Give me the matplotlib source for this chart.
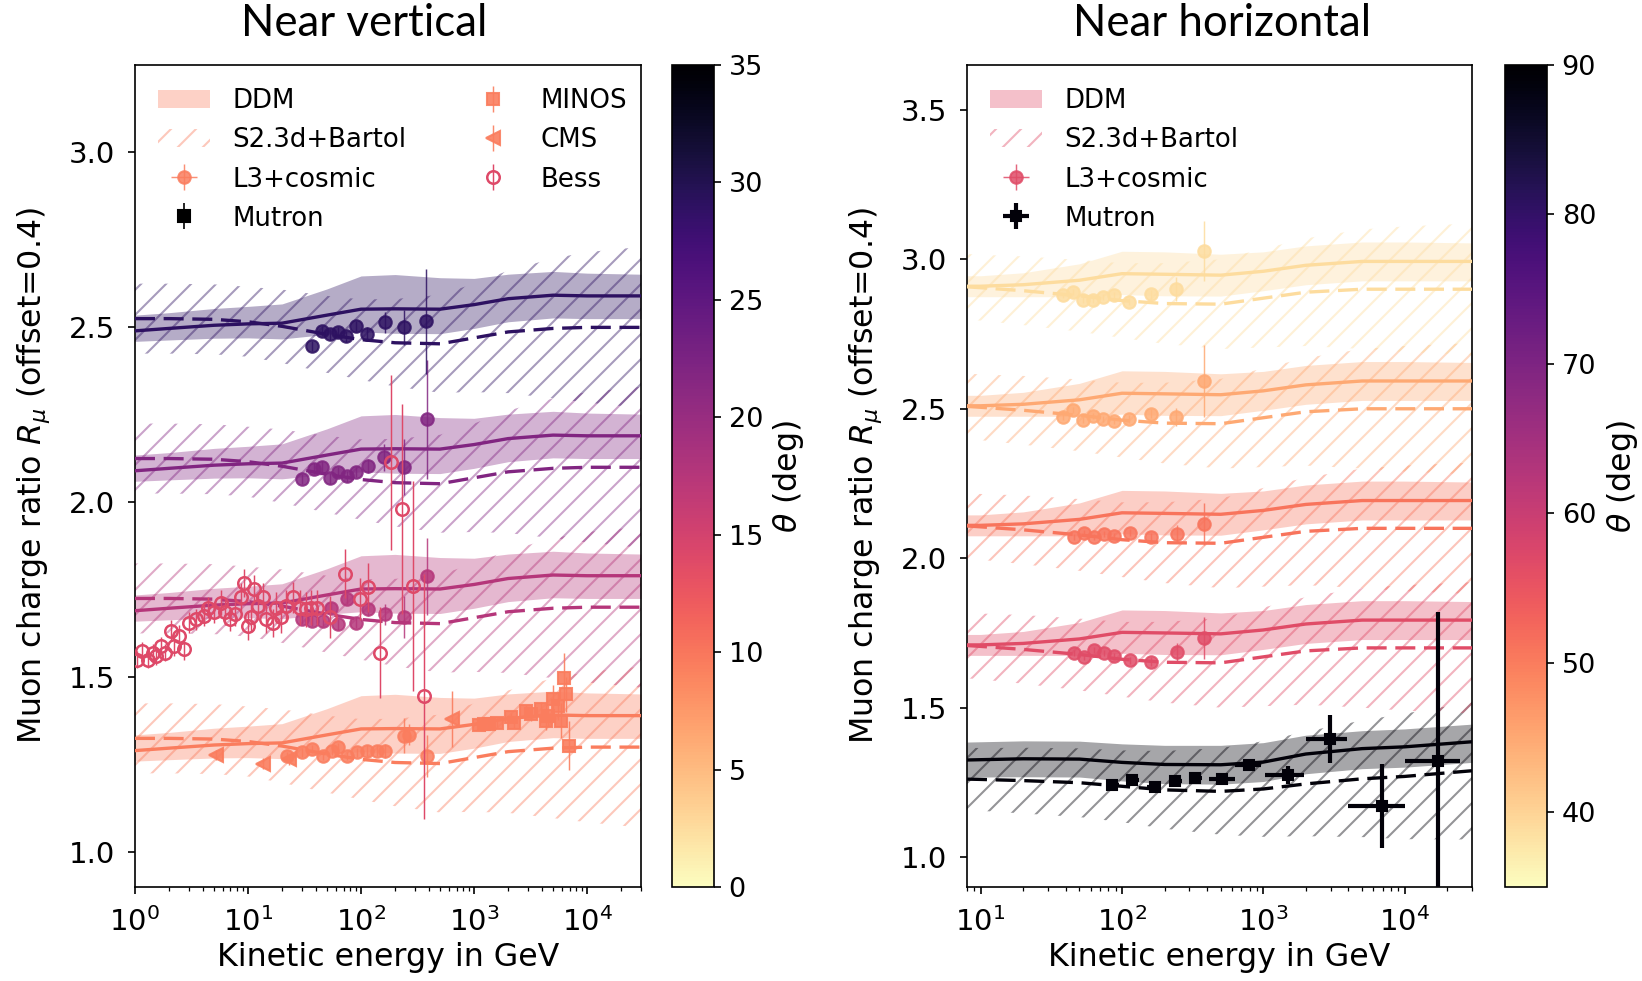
import numpy as np
import matplotlib
matplotlib.use("Agg")
import matplotlib.pyplot as plt
from matplotlib.patches import Patch
from matplotlib.colors import Normalize, to_rgba
from matplotlib.cm import ScalarMappable

OFFSET = 0.4
CMAP = plt.get_cmap("magma_r")

# ---- theory curves, near vertical (ratio without offset) ----
e_vert = [1, 2, 5, 10, 20, 50, 100, 200, 500, 1000, 2000, 5000, 10000, 30000]
ddm_vert = [1.29, 1.297, 1.306, 1.31, 1.312, 1.335, 1.352, 1.353, 1.352, 1.365, 1.382, 1.392, 1.39, 1.39]
ddm_vert_up = [0.045, 0.045, 0.048, 0.05, 0.055, 0.075, 0.095, 0.098, 0.09, 0.075, 0.07, 0.068, 0.065, 0.062]
ddm_vert_dn = [0.03, 0.033, 0.037, 0.04, 0.045, 0.055, 0.065, 0.07, 0.07, 0.068, 0.066, 0.065, 0.065, 0.065]
bartol_vert = [1.325, 1.325, 1.323, 1.316, 1.303, 1.28, 1.265, 1.256, 1.253, 1.27, 1.287, 1.297, 1.3, 1.3]
bartol_vert_hw = [0.1, 0.1, 0.1, 0.1, 0.105, 0.11, 0.115, 0.125, 0.14, 0.155, 0.175, 0.2, 0.215, 0.23]
theta_vert = [9.5, 17.5, 22, 29]

# ---- theory curves, near horizontal ----
e_horiz = [8, 10, 20, 50, 100, 200, 500, 1000, 2000, 5000, 10000, 30000]
ddm_horiz = [1.31, 1.31, 1.315, 1.33, 1.352, 1.35, 1.347, 1.36, 1.38, 1.393, 1.393, 1.393]
ddm_horiz_up = [0.035, 0.035, 0.04, 0.055, 0.075, 0.075, 0.07, 0.065, 0.065, 0.065, 0.065, 0.062]
ddm_horiz_dn = [0.035, 0.035, 0.04, 0.055, 0.07, 0.072, 0.07, 0.065, 0.065, 0.065, 0.065, 0.065]
bartol_horiz = [1.308, 1.305, 1.295, 1.278, 1.262, 1.252, 1.25, 1.27, 1.29, 1.3, 1.3, 1.3]
bartol_horiz_hw = [0.11, 0.11, 0.115, 0.12, 0.125, 0.135, 0.15, 0.165, 0.18, 0.2, 0.21, 0.22]
ddm_89 = [1.325, 1.326, 1.329, 1.328, 1.317, 1.31, 1.309, 1.318, 1.345, 1.363, 1.369, 1.386]
ddm_89_up = [0.06, 0.06, 0.06, 0.06, 0.062, 0.064, 0.065, 0.065, 0.063, 0.06, 0.06, 0.059]
ddm_89_dn = [0.058, 0.058, 0.06, 0.06, 0.062, 0.064, 0.065, 0.065, 0.066, 0.067, 0.068, 0.069]
bartol_89 = [1.261, 1.26, 1.256, 1.249, 1.237, 1.225, 1.22, 1.228, 1.245, 1.262, 1.27, 1.289]
bartol_89_hw = [0.105, 0.105, 0.11, 0.115, 0.12, 0.13, 0.145, 0.16, 0.175, 0.195, 0.21, 0.23]
theta_horiz = [89, 56.5, 51, 45, 39]

# ---- L3+cosmic, near vertical, one list per angle bin ----
l3_vert_e = [
    [22, 30, 37, 46, 55, 63, 75, 92, 114, 138, 163, 238, 263, 384],
    [30, 37, 46, 54, 63, 75, 90, 115, 163, 241, 384],
    [30, 38, 45, 53, 63, 75, 90, 115, 160, 241, 384],
    [37, 45, 53, 62, 74, 90, 114, 162, 239, 374],
]
l3_vert_r = [
    [1.275, 1.285, 1.294, 1.275, 1.29, 1.3, 1.275, 1.285, 1.29, 1.29, 1.29, 1.332, 1.335, 1.275],
    [1.266, 1.261, 1.261, 1.299, 1.251, 1.323, 1.256, 1.296, 1.28, 1.273, 1.389],
    [1.266, 1.296, 1.302, 1.268, 1.287, 1.274, 1.287, 1.304, 1.328, 1.302, 1.437],
    [1.247, 1.29, 1.28, 1.287, 1.274, 1.304, 1.28, 1.315, 1.301, 1.318],
]
l3_vert_err = [
    [0.012, 0.012, 0.012, 0.012, 0.012, 0.012, 0.012, 0.012, 0.015, 0.015, 0.02, 0.05, 0.03, 0.06],
    [0.015, 0.015, 0.015, 0.015, 0.015, 0.015, 0.015, 0.02, 0.03, 0.06, 0.11],
    [0.015, 0.015, 0.015, 0.015, 0.015, 0.015, 0.015, 0.02, 0.04, 0.08, 0.17],
    [0.015, 0.015, 0.015, 0.015, 0.015, 0.015, 0.02, 0.03, 0.05, 0.15],
]

# ---- MINOS and CMS (lowest angle bin) ----
minos_e = [1104, 1222, 1355, 1607, 2110, 2259, 2870, 3178, 3900, 4320, 4467, 4950, 5480, 5870, 6205, 6505, 6966]
minos_r = [1.363, 1.366, 1.366, 1.37, 1.385, 1.37, 1.404, 1.394, 1.409, 1.375, 1.39, 1.437, 1.418, 1.375, 1.499, 1.451, 1.304]
minos_err = [0.01, 0.01, 0.01, 0.012, 0.012, 0.015, 0.015, 0.02, 0.02, 0.025, 0.03, 0.04, 0.04, 0.05, 0.07, 0.05, 0.07]
cms_e = [5.2, 13.5, 23, 640]
cms_r = [1.277, 1.253, 1.265, 1.38]
cms_err = [0.015, 0.015, 0.015, 0.08]

# ---- Bess (second angle bin) ----
bess_e = [1.05, 1.16, 1.3, 1.43, 1.55, 1.69, 1.85, 2.07, 2.2, 2.46, 2.73, 3.02, 3.46, 4.1, 4.4,
          5.0, 5.8, 6.2, 6.9, 7.6, 8.7, 9.3, 10, 10.7, 11.4, 12.2, 13.5, 14.5, 16.6, 17.8,
          19.7, 21.8, 25, 28.7, 32.9, 36.4, 40.4, 53, 72, 98, 116, 148, 184, 230, 288, 358]
bess_r = [1.15, 1.175, 1.15, 1.17, 1.16, 1.189, 1.17, 1.232, 1.19, 1.218, 1.18, 1.256, 1.266, 1.275, 1.299,
          1.285, 1.313, 1.285, 1.266, 1.28, 1.328, 1.37, 1.247, 1.271, 1.352, 1.304, 1.328, 1.266, 1.256, 1.299,
          1.271, 1.304, 1.328, 1.299, 1.294, 1.299, 1.299, 1.271, 1.395, 1.323, 1.357, 1.17, 1.714, 1.58, 1.36, 1.045]
bess_err = [0.025, 0.025, 0.025, 0.025, 0.025, 0.025, 0.025, 0.03, 0.03, 0.03, 0.03, 0.03, 0.03, 0.03, 0.03,
            0.03, 0.035, 0.035, 0.035, 0.035, 0.04, 0.04, 0.04, 0.04, 0.04, 0.04, 0.04, 0.04, 0.04, 0.045,
            0.045, 0.045, 0.045, 0.05, 0.05, 0.05, 0.05, 0.06, 0.07, 0.06, 0.07, 0.13, 0.25, 0.3, 0.3, 0.35]
theta_bess = 14

# ---- L3+cosmic, near horizontal (index = angle bin, bin 0 has Mutron only) ----
l3_horiz_e = [
    [],
    [46, 54, 63, 75, 88.5, 114, 161, 244, 383],
    [46, 54, 63, 75, 88.5, 114, 161, 244, 383],
    [38, 45, 53, 62, 73, 88.5, 113, 161, 241, 383],
    [38, 45, 53, 62, 73, 88.5, 113, 161, 241, 383],
]
l3_horiz_r = [
    [],
    [1.282, 1.268, 1.294, 1.282, 1.274, 1.259, 1.254, 1.287, 1.332],
    [1.27, 1.285, 1.27, 1.28, 1.275, 1.285, 1.27, 1.28, 1.315],
    [1.271, 1.297, 1.264, 1.277, 1.266, 1.26, 1.266, 1.283, 1.271, 1.394],
    [1.279, 1.29, 1.265, 1.265, 1.273, 1.281, 1.258, 1.283, 1.301, 1.429],
]
l3_horiz_err = [
    [],
    [0.01, 0.01, 0.01, 0.01, 0.01, 0.012, 0.015, 0.03, 0.07],
    [0.01, 0.01, 0.01, 0.01, 0.01, 0.012, 0.015, 0.03, 0.07],
    [0.01, 0.01, 0.01, 0.01, 0.01, 0.01, 0.012, 0.015, 0.03, 0.12],
    [0.01, 0.01, 0.01, 0.01, 0.01, 0.01, 0.012, 0.015, 0.04, 0.1],
]

# ---- Mutron (near horizontal, lowest bin) ----
mutron_e = [85, 118, 170, 239, 330, 510, 796, 1486, 2958, 6970, 17340]
mutron_lo = [77, 107, 151, 217, 300, 415, 635, 1020, 1990, 4000, 10000]
mutron_hi = [96, 132, 189, 266, 369, 630, 958, 1940, 3940, 10000, 24840]
mutron_r = [1.241, 1.259, 1.233, 1.255, 1.264, 1.261, 1.308, 1.274, 1.395, 1.17, 1.32]
mutron_err = [0.015, 0.015, 0.015, 0.015, 0.015, 0.015, 0.02, 0.03, 0.08, 0.14, 0.5]

plt.rcParams["font.family"] = "DejaVu Sans"
plt.rcParams["hatch.linewidth"] = 1.0
TICK_FS = 14
CBAR_FS = 13
LABEL_FS = 15.2
LEGEND_FS = 12.5
DASH = (0, (6, 2.6))
HATCH = "//"


def theory(ax, e, ddm, up, dn, bartol, hw, color, shift):
    e = np.asarray(e)
    ddm = np.asarray(ddm) + shift
    bartol = np.asarray(bartol) + shift
    ax.fill_between(e, ddm - np.asarray(dn), ddm + np.asarray(up), color=color, alpha=0.35, lw=0, zorder=1)
    ax.fill_between(e, bartol - np.asarray(hw), bartol + np.asarray(hw), facecolor="none",
                    edgecolor=to_rgba(color, 0.42), hatch=HATCH, lw=0, zorder=1)
    ax.plot(e, ddm, color=color, lw=1.6, zorder=3)
    ax.plot(e, bartol, color=color, lw=1.6, ls=DASH, zorder=3)


def style_axes(ax, xlim, ylim, yticks):
    ax.set_xscale("log")
    ax.set_xlim(*xlim)
    ax.set_ylim(*ylim)
    ax.set_yticks(yticks)
    ax.tick_params(labelsize=TICK_FS, pad=6)
    ax.set_xlabel("Kinetic energy in GeV", fontsize=LABEL_FS, labelpad=2.5)
    ax.set_ylabel(r"Muon charge ratio $R_\mu$ (offset=0.4)", fontsize=LABEL_FS, labelpad=8)


fig = plt.figure(figsize=(1642 / 150, 981 / 150), dpi=150)
ax_l = fig.add_axes([0.0822, 0.0958, 0.3082, 0.8379])
cax_l = fig.add_axes([0.4093, 0.0958, 0.0256, 0.8379])
ax_r = fig.add_axes([0.5889, 0.0958, 0.3076, 0.8379])
cax_r = fig.add_axes([0.9166, 0.0958, 0.0256, 0.8379])

legend_kw = dict(loc="upper left", frameon=False, fontsize=LEGEND_FS, handlelength=2.0,
                 handletextpad=0.85, labelspacing=0.5)

# ---------------- near vertical ----------------
norm_v = Normalize(0, 35)
cols_v = [CMAP(norm_v(t)) for t in theta_vert]
col_bess = CMAP(norm_v(theta_bess))

for k, c in enumerate(cols_v):
    theory(ax_l, e_vert, ddm_vert, ddm_vert_up, ddm_vert_dn, bartol_vert, bartol_vert_hw, c, k * OFFSET)

l3_handle = None
for k, c in enumerate(cols_v):
    h = ax_l.errorbar(l3_vert_e[k], np.asarray(l3_vert_r[k]) + k * OFFSET, yerr=l3_vert_err[k],
                      xerr=np.zeros(len(l3_vert_e[k])), fmt="o", color=c, ms=6, elinewidth=0.7,
                      alpha=0.85, zorder=4)
    if k == 0:
        l3_handle = h

minos_h = ax_l.errorbar(minos_e, minos_r, yerr=minos_err, fmt="s", color=cols_v[0], ms=5.5,
                        elinewidth=0.7, alpha=0.9, zorder=4)
cms_h = ax_l.errorbar(cms_e, cms_r, yerr=cms_err, fmt="<", color=cols_v[0], ms=6.5,
                      elinewidth=0.7, alpha=0.9, zorder=4)
bess_h = ax_l.errorbar(bess_e, np.asarray(bess_r) + OFFSET, yerr=bess_err, fmt="o", color=col_bess,
                       mfc="none", mec=col_bess, ms=6, mew=1.2, elinewidth=0.7, zorder=5)
mutron_v_h = ax_l.errorbar([], [], yerr=[], fmt="s", color="black", ms=5.5, elinewidth=0.8)

ddm_patch_v = Patch(facecolor=cols_v[0], alpha=0.35, lw=0)
bartol_patch_v = Patch(facecolor="none", edgecolor=to_rgba(cols_v[0], 0.42), hatch=HATCH, lw=0)
ax_l.legend([ddm_patch_v, bartol_patch_v, l3_handle, mutron_v_h, minos_h, cms_h, bess_h],
            ["DDM", "S2.3d+Bartol", "L3+cosmic", "Mutron", "MINOS", "CMS", "Bess"],
            ncol=2, columnspacing=2.3, **legend_kw)

style_axes(ax_l, (1, 3e4), (0.9, 3.25), [1.0, 1.5, 2.0, 2.5, 3.0])

cb_l = fig.colorbar(ScalarMappable(norm=norm_v, cmap=CMAP), cax=cax_l, ticks=range(0, 36, 5))
cb_l.ax.tick_params(labelsize=CBAR_FS)
cb_l.set_label(r"$\theta$ (deg)", fontsize=LABEL_FS)

# ---------------- near horizontal ----------------
norm_h = Normalize(35, 90)
cols_h = [CMAP(norm_h(t)) for t in theta_horiz]

theory(ax_r, e_horiz, ddm_89, ddm_89_up, ddm_89_dn, bartol_89, bartol_89_hw, cols_h[0], 0)
for k in range(1, len(cols_h)):
    theory(ax_r, e_horiz, ddm_horiz, ddm_horiz_up, ddm_horiz_dn, bartol_horiz, bartol_horiz_hw,
           cols_h[k], k * OFFSET)

l3_h_handle = None
for k in range(1, len(cols_h)):
    h = ax_r.errorbar(l3_horiz_e[k], np.asarray(l3_horiz_r[k]) + k * OFFSET, yerr=l3_horiz_err[k],
                      xerr=np.zeros(len(l3_horiz_e[k])), fmt="o", color=cols_h[k], ms=6,
                      elinewidth=0.7, alpha=0.85, zorder=4)
    if k == 1:
        l3_h_handle = h

mutron_e_arr = np.asarray(mutron_e)
mutron_xerr = [mutron_e_arr - np.asarray(mutron_lo), np.asarray(mutron_hi) - mutron_e_arr]
mutron_h = ax_r.errorbar(mutron_e, mutron_r, yerr=mutron_err, xerr=mutron_xerr, fmt="s",
                         color=cols_h[0], ms=5, elinewidth=2.0, zorder=5)

ddm_patch_h = Patch(facecolor=cols_h[1], alpha=0.35, lw=0)
bartol_patch_h = Patch(facecolor="none", edgecolor=to_rgba(cols_h[1], 0.42), hatch=HATCH, lw=0)
ax_r.legend([ddm_patch_h, bartol_patch_h, l3_h_handle, mutron_h],
            ["DDM", "S2.3d+Bartol", "L3+cosmic", "Mutron"], **legend_kw)

style_axes(ax_r, (8, 3e4), (0.9, 3.65), [1.0, 1.5, 2.0, 2.5, 3.0, 3.5])

cb_r = fig.colorbar(ScalarMappable(norm=norm_h, cmap=CMAP), cax=cax_r, ticks=range(40, 91, 10))
cb_r.ax.tick_params(labelsize=CBAR_FS)
cb_r.set_label(r"$\theta$ (deg)", fontsize=LABEL_FS)

fig.text(364 / 1642, 1 - 23 / 981, "Near vertical", ha="center", va="center", fontsize=21, family="Lato")
fig.text(1222 / 1642, 1 - 23 / 981, "Near horizontal", ha="center", va="center", fontsize=21, family="Lato")

fig.savefig("out.png", dpi=150)
